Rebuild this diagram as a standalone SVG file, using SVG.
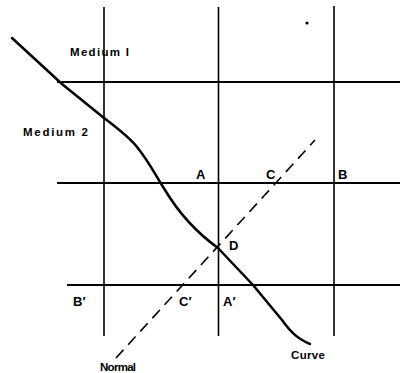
<svg xmlns="http://www.w3.org/2000/svg" width="400" height="373" viewBox="0 0 400 373">
<style>
.ln{stroke:#000;stroke-width:1.6;fill:none}
.hl{stroke:#000;stroke-width:2;fill:none}
.cv{stroke:#000;stroke-width:2.5;fill:none;stroke-linecap:round;stroke-linejoin:round}
.dash{stroke:#000;stroke-width:1.6;fill:none;stroke-dasharray:11,7}
text{font-family:"Liberation Sans",Arial,sans-serif;font-weight:bold;fill:#000}
.lb{font-size:13px}
.sm{font-size:11.5px}
</style>
<rect width="400" height="373" fill="#fff"/>
<g id="connectors">
<line class="ln" x1="104" y1="7" x2="104" y2="336"/>
<line class="ln" x1="218.5" y1="7" x2="218.5" y2="336"/>
<line class="ln" x1="334" y1="6" x2="334" y2="336"/>
<line class="hl" x1="57" y1="82" x2="400" y2="82"/>
<line class="hl" x1="57" y1="183" x2="400" y2="183"/>
<line class="hl" x1="67" y1="285" x2="400" y2="285"/>
<path id="curve" class="cv" d="M12,38 L62,84 L104,118 C120,130 130,138 137,147 C150,163 157,178 165,190 C180,215 200,235 218,248 L253,285 L282,320 C290,331 296,338 310,344"/>
<line id="normal" class="dash" x1="116" y1="358" x2="315" y2="140"/>
<circle cx="307" cy="23" r="1.6" fill="#000"/>
</g>
<g id="medium1"><text class="sm" x="70" y="55.5" textLength="59">Medium  I</text></g>
<g id="medium2"><text class="sm" x="23" y="135.5" textLength="65">Medium  2</text></g>
<g id="A"><text class="lb" x="196" y="178.5">A</text></g>
<g id="C"><text class="lb" x="266" y="178.5">C</text></g>
<g id="B"><text class="lb" x="338" y="178.5">B</text></g>
<g id="Bp"><text class="lb" x="73" y="305.5">B′</text></g>
<g id="Cp"><text class="lb" x="179" y="305.5">C′</text></g>
<g id="Ap"><text class="lb" x="223" y="305.5">A′</text></g>
<g id="D"><text class="lb" x="229" y="249.5">D</text></g>
<g id="Normal"><text class="sm" x="100" y="370.5" textLength="36">Normal</text></g>
<g id="Curve"><text class="sm" x="291" y="358.5" textLength="34">Curve</text></g>
</svg>
